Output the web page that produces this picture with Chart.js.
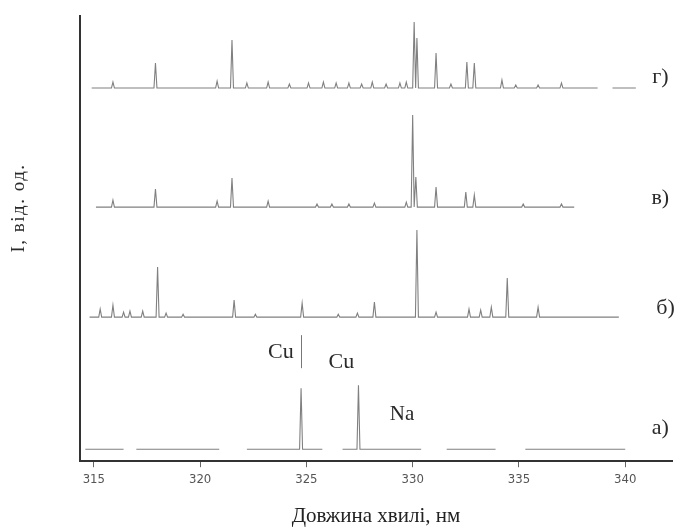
<!DOCTYPE html>
<html>
<head>
  <title>Emission spectra</title>
  <script src="https://cdn.jsdelivr.net/npm/chart.js"></script>
  <style>
    html, body { margin: 0; padding: 0; background: #fff; }
    #wrap { width: 678px; height: 530px; }
  </style>
</head>
<body>
<div id="wrap"><canvas id="chart"></canvas></div>
<script>
  // x ticks, nm
  const xTicks = [315, 320, 325, 330, 335, 340];
  const seriesNames = ['а)', 'б)', 'в)', 'г)'];
  // vertical shift of each trace (arb. units)
  const offsets = [0, 132, 242, 361];

  // а) reference lines
  const aRanges = [[314.6, 316.4], [317.0, 320.9], [322.2, 325.75], [326.7, 330.4], [331.6, 333.9], [335.3, 340.0]];
  const aPeaks = [324.75, 327.45];
  const aHeights = [61, 64];

  // б)
  const bRanges = [[314.8, 339.7]];
  const bPeaks = [315.3, 315.9, 316.4, 316.7, 317.3, 318.0, 318.4, 319.2, 321.6, 322.6, 324.8, 326.5, 327.4, 328.2, 330.2, 331.1, 332.65, 333.2, 333.7, 334.45, 335.9];
  const bHeights = [8, 12, 5, 6, 6, 50, 4, 3, 17, 3, 14, 3, 4, 15, 87, 5, 8, 7, 10, 39, 10];

  // в)
  const vRanges = [[315.1, 337.6]];
  const vPeaks = [315.9, 317.9, 320.8, 321.5, 323.2, 325.5, 326.2, 327.0, 328.2, 329.7, 330.0, 330.15, 331.1, 332.5, 332.9, 335.2, 337.0];
  const vHeights = [7, 18, 6, 29, 6, 3, 3, 3, 4, 5, 92, 30, 20, 15, 12, 3, 3];

  // г)
  const gRanges = [[314.9, 338.7], [339.4, 340.5]];
  const gPeaks = [315.9, 317.9, 320.8, 321.5, 322.2, 323.2, 324.2, 325.1, 325.8, 326.4, 327.0, 327.6, 328.1, 328.75, 329.4, 329.7, 330.07, 330.2, 331.1, 331.8, 332.55, 332.9, 334.2, 334.85, 335.9, 337.0];
  const gHeights = [6, 25, 7, 48, 5, 6, 4, 5, 6, 5, 5, 4, 6, 4, 5, 6, 66, 50, 35, 4, 26, 25, 8, 3, 3, 5];

  // stick spectrum -> line points, null breaks between ranges
  function trace(ranges, peaks, heights, base) {
    const pts = [];
    const hw = 0.07;
    ranges.forEach(([lo, hi], r) => {
      if (r > 0) pts.push({ x: lo - 0.01, y: null });
      pts.push({ x: lo, y: base });
      peaks.forEach((p, i) => {
        if (p < lo || p > hi) return;
        pts.push({ x: p - hw, y: base });
        pts.push({ x: p, y: base + heights[i] });
        pts.push({ x: p + hw, y: base });
      });
      pts.push({ x: hi, y: base });
    });
    return pts;
  }

  const traces = [
    trace(aRanges, aPeaks, aHeights, offsets[0]),
    trace(bRanges, bPeaks, bHeights, offsets[1]),
    trace(vRanges, vPeaks, vHeights, offsets[2]),
    trace(gRanges, gPeaks, gHeights, offsets[3])
  ];

  const serif = '"Liberation Serif", "DejaVu Serif", serif';

  // text labels drawn in data coordinates
  const notes = {
    id: 'notes',
    afterDatasetsDraw(chart) {
      const { ctx, scales: { x, y } } = chart;
      ctx.save();
      ctx.fillStyle = '#2a2a2a';
      ctx.textAlign = 'center';
      ctx.textBaseline = 'middle';
      ctx.font = '22px ' + serif;
      const lx = [341.65, 341.9, 341.65, 341.65];
      const ly = [21, 9, 9, 11];
      seriesNames.forEach((n, i) => {
        ctx.fillText(n, x.getPixelForValue(lx[i]), y.getPixelForValue(offsets[i] + ly[i]));
      });
      ctx.fillText('Cu', x.getPixelForValue(323.8), y.getPixelForValue(97));
      ctx.fillText('Cu', x.getPixelForValue(326.65), y.getPixelForValue(87));
      ctx.font = '21px ' + serif;
      ctx.fillText('Na', x.getPixelForValue(329.5), y.getPixelForValue(35));
      // marker bar next to the first Cu label
      ctx.strokeStyle = '#777';
      ctx.lineWidth = 1;
      ctx.beginPath();
      const bx = Math.round(x.getPixelForValue(324.75)) + 0.5;
      ctx.moveTo(bx, y.getPixelForValue(81));
      ctx.lineTo(bx, y.getPixelForValue(114));
      ctx.stroke();
      // y title
      ctx.font = '19px ' + serif;
      ctx.letterSpacing = '1.5px';
      ctx.translate(19, 208);
      ctx.rotate(-Math.PI / 2);
      ctx.fillText('I, від. од.', 0, 0);
      ctx.restore();
    }
  };

  new Chart(document.getElementById('chart'), {
    type: 'line',
    data: {
      datasets: traces.map((t, i) => ({
        label: seriesNames[i],
        data: t,
        borderColor: '#808080',
        borderWidth: 1.1,
        pointRadius: 0,
        tension: 0,
        spanGaps: false
      }))
    },
    options: {
      responsive: true,
      maintainAspectRatio: false,
      animation: false,
      layout: { padding: { left: 80, right: 6, top: 16, bottom: 0 } },
      plugins: { legend: { display: false }, tooltip: { enabled: false } },
      scales: {
        x: {
          type: 'linear',
          min: 314.35,
          max: 342.2,
          afterBuildTicks: s => { s.ticks = xTicks.map(v => ({ value: v })); },
          grid: { drawOnChartArea: false, tickLength: 6, color: '#666' },
          border: { display: true, color: '#333', width: 2 },
          ticks: {
            padding: 5,
            color: '#555',
            font: { size: 13, family: '"Liberation Sans Narrow", "DejaVu Sans Condensed", sans-serif' }
          },
          title: {
            display: true,
            text: 'Довжина хвилі, нм',
            color: '#222',
            font: { size: 21, family: serif },
            padding: { top: 11, bottom: 1 }
          }
        },
        y: {
          min: -12,
          max: 433,
          ticks: { display: false },
          grid: { display: false, drawTicks: false },
          border: { display: true, color: '#333', width: 2 }
        }
      }
    },
    plugins: [notes]
  });
</script>
</body>
</html>
